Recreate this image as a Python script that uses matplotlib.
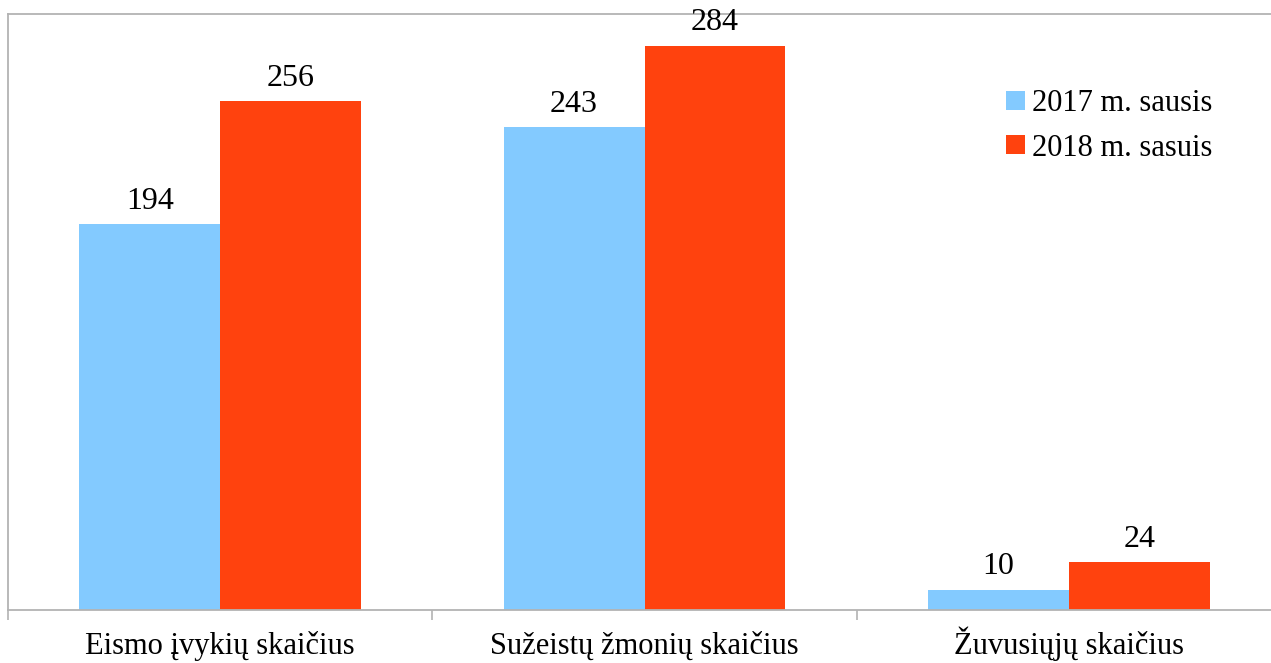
import matplotlib.pyplot as plt
import numpy as np

# data
categories = ["Eismo įvykių skaičius", "Sužeistų žmonių skaičius", "Žuvusiųjų skaičius"]
series_names = ["2017 m. sausis", "2018 m. sasuis"]
values_2017 = [194, 243, 10]
values_2018 = [256, 284, 24]

colors = ["#83CAFF", "#FF420E"]

plt.rcParams['font.family'] = ['Liberation Serif', 'DejaVu Serif']

fig = plt.figure(figsize=(12.71, 6.63), dpi=100)
# plot area runs a little past the right edge of the picture
ax = fig.add_axes([8 / 1271, (663 - 609.5) / 663, 1273 / 1271, 595.5 / 663])

x = np.arange(len(categories))
w = 0.332
bars1 = ax.bar(x - w / 2, values_2017, w, color=colors[0], label=series_names[0])
bars2 = ax.bar(x + w / 2, values_2018, w, color=colors[1], label=series_names[1])

for bars in (bars1, bars2):
    for b in bars:
        ax.annotate(str(int(b.get_height())), (b.get_x() + b.get_width() / 2, b.get_height()),
                    xytext=(0, 6), textcoords="offset points", ha="center", va="bottom",
                    fontsize=23, color="black")

ax.set_xlim(-0.5, len(categories) - 0.5)
ax.set_ylim(0, 300)
ax.set_yticks([])
ax.set_xticks(x)
ax.set_xticklabels(categories, fontsize=22)
# align category labels on their baseline, like the reference
for lbl in ax.get_xticklabels():
    lbl.set_verticalalignment("baseline")
ax.tick_params(axis="x", which="major", length=0, pad=32)
ax.set_xticks(np.arange(-0.5, len(categories)), minor=True)
ax.tick_params(axis="x", which="minor", length=7.5, width=1.2, color="#b3b3b3")

for s in ax.spines.values():
    s.set_color("#b3b3b3")
    s.set_linewidth(1.3)

leg = ax.legend(loc="upper left", bbox_to_anchor=(0.770, 0.9068), bbox_transform=fig.transFigure,
                frameon=False, fontsize=22, handlelength=0.6, handleheight=0.6,
                handletextpad=0.26, labelspacing=0.5)

fig.savefig("out.png", dpi=100)
